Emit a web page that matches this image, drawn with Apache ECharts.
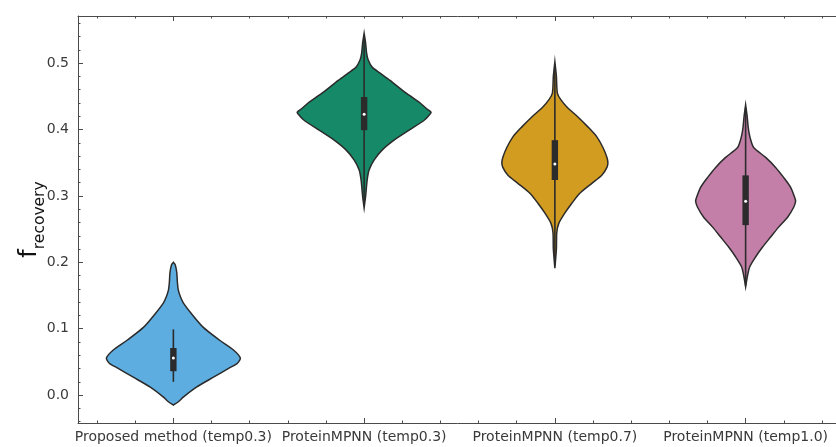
<!DOCTYPE html>
<html>
<head>
<meta charset="utf-8">
<script src="https://cdn.jsdelivr.net/npm/echarts@6/dist/echarts.min.js"></script>
<style>
  html, body { margin: 0; padding: 0; background: #ffffff; }
  #chart { width: 836px; height: 447px; }
</style>
</head>
<body>
<div id="chart"></div>
<script>
// Methods compared
const categories = [
  'Proposed method (temp0.3)',
  'ProteinMPNN (temp0.3)',
  'ProteinMPNN (temp0.7)',
  'ProteinMPNN (temp1.0)'
];

// Violin outlines: recovery values (top to bottom) and kernel density half-widths
// (as a fraction of one category band)
const proposedY = [0.200, 0.196, 0.184, 0.170, 0.158, 0.148, 0.139, 0.123, 0.102, 0.083, 0.068, 0.056, 0.048, 0.041, 0.027, 0.012, -0.003, -0.010, -0.015];
const proposedW = [0.000, 0.010, 0.018, 0.021, 0.026, 0.037, 0.052, 0.094, 0.157, 0.241, 0.315, 0.351, 0.336, 0.294, 0.210, 0.121, 0.052, 0.026, 0.000];

const mpnn03Y = [0.545, 0.530, 0.515, 0.505, 0.494, 0.485, 0.474, 0.456, 0.440, 0.432, 0.426, 0.420, 0.414, 0.399, 0.384, 0.369, 0.354, 0.339, 0.324, 0.300, 0.282];
const mpnn03W = [0.000, 0.008, 0.013, 0.021, 0.042, 0.084, 0.136, 0.215, 0.294, 0.325, 0.351, 0.336, 0.315, 0.236, 0.157, 0.094, 0.052, 0.026, 0.016, 0.008, 0.000];

const mpnn07Y = [0.502, 0.480, 0.455, 0.445, 0.434, 0.419, 0.404, 0.389, 0.373, 0.358, 0.350, 0.343, 0.331, 0.319, 0.304, 0.289, 0.274, 0.259, 0.245, 0.220, 0.191];
const mpnn07W = [0.000, 0.008, 0.013, 0.031, 0.063, 0.121, 0.173, 0.220, 0.252, 0.273, 0.278, 0.273, 0.246, 0.194, 0.131, 0.089, 0.052, 0.021, 0.010, 0.008, 0.000];

const mpnn10Y = [0.437, 0.420, 0.405, 0.395, 0.385, 0.373, 0.358, 0.343, 0.328, 0.313, 0.298, 0.292, 0.283, 0.268, 0.253, 0.238, 0.223, 0.208, 0.193, 0.180, 0.163];
const mpnn10W = [0.000, 0.008, 0.013, 0.018, 0.026, 0.042, 0.105, 0.157, 0.199, 0.236, 0.257, 0.262, 0.252, 0.220, 0.173, 0.131, 0.089, 0.052, 0.021, 0.010, 0.000];

// Inner box statistics
const whiskerLow  = [0.020, 0.285, 0.195, 0.165];
const quartile1   = [0.036, 0.399, 0.324, 0.256];
const medians     = [0.056, 0.423, 0.348, 0.292];
const quartile3   = [0.071, 0.449, 0.384, 0.331];
const whiskerHigh = [0.099, 0.540, 0.498, 0.433];

// Y axis range and tick labels
const yMin = -0.042;
const yMax = 0.571;
const yTickLabels = ['0.0', '0.1', '0.2', '0.3', '0.4', '0.5'];

const palette = ['#5dade0', '#168a68', '#d29c20', '#c47fa8'];
const violinY = [proposedY, mpnn03Y, mpnn07Y, mpnn10Y];
const violinW = [proposedW, mpnn03W, mpnn07W, mpnn10W];

const FONT = 'DejaVu Sans';
const AXIS_COLOR = '#4a4a4a';
const LABEL_COLOR = '#3a3a3a';

// 20 sub-slots for the minor ticks along x (5 per category band)
const minorSlots = [];
for (let i = 0; i < categories.length * 5; i++) minorSlots.push('m' + i);

const chart = echarts.init(document.getElementById('chart'), null, { renderer: 'canvas' });

function renderViolin(params, api) {
  const i = api.value(0);
  const ys = violinY[i];
  const ws = violinW[i];
  const cx = api.coord([i, 0])[0];
  const band = api.size([1, 0])[0];
  const right = [];
  const left = [];
  for (let k = 0; k < ys.length; k++) {
    const py = api.coord([i, ys[k]])[1];
    right.push([cx + ws[k] * band, py]);
    left.unshift([cx - ws[k] * band, py]);
  }
  const yWl = api.coord([i, whiskerLow[i]])[1];
  const yWh = api.coord([i, whiskerHigh[i]])[1];
  const yQ1 = api.coord([i, quartile1[i]])[1];
  const yQ3 = api.coord([i, quartile3[i]])[1];
  const yMed = api.coord([i, medians[i]])[1];
  return {
    type: 'group',
    children: [
      {
        type: 'polygon',
        shape: { points: right.concat(left), smooth: 0.25 },
        style: { fill: palette[i], stroke: '#2b2b2b', lineWidth: 1.5 }
      },
      {
        type: 'line',
        shape: { x1: cx, y1: yWh, x2: cx, y2: yWl },
        style: { stroke: '#2b2b2b', lineWidth: 1.6 }
      },
      {
        type: 'rect',
        shape: { x: cx - 3.2, y: yQ3, width: 6.4, height: yQ1 - yQ3 },
        style: { fill: '#2b2b2b' }
      },
      {
        type: 'circle',
        shape: { cx: cx, cy: yMed, r: 1.5 },
        style: { fill: '#ffffff' }
      }
    ]
  };
}

function frameAxis(data, position, tickLength, showLine, showLabel) {
  return {
    type: 'category',
    data: data,
    position: position,
    boundaryGap: true,
    axisLine: { show: showLine, onZero: false, lineStyle: { color: AXIS_COLOR, width: 1 } },
    axisTick: { show: true, inside: true, alignWithLabel: true, length: tickLength, lineStyle: { color: AXIS_COLOR } },
    axisLabel: showLabel
      ? { color: LABEL_COLOR, fontFamily: FONT, fontSize: 14, margin: 7, interval: 0 }
      : { show: false },
    splitLine: { show: false }
  };
}

const option = {
  backgroundColor: '#ffffff',
  animation: false,
  grid: { left: 78, right: -5, top: 16, bottom: 24, containLabel: false, outerBoundsMode: 'none' },
  xAxis: [
    frameAxis(categories, 'bottom', 5, true, true),
    frameAxis(categories, 'top', 5, true, false),
    frameAxis(minorSlots, 'bottom', 2.5, false, false),
    frameAxis(minorSlots, 'top', 2.5, false, false)
  ],
  yAxis: [
    {
      type: 'value',
      min: yMin,
      max: yMax,
      position: 'left',
      name: '{f|f}{s|recovery}',
      nameLocation: 'middle',
      nameRotate: 90,
      nameGap: 36,
      nameMoveOverlap: false,
      nameTextStyle: {
        rich: {
          f: { fontFamily: FONT, fontSize: 24, color: '#111111', verticalAlign: 'bottom', lineHeight: 27 },
          s: { fontFamily: FONT, fontSize: 15.5, color: '#111111', verticalAlign: 'bottom', lineHeight: 15, padding: [0, 0, -6, 0] }
        }
      },
      axisLine: { show: true, onZero: false, lineStyle: { color: AXIS_COLOR, width: 1 } },
      axisTick: { show: true, inside: true, length: 5, lineStyle: { color: AXIS_COLOR } },
      axisLabel: {
        color: LABEL_COLOR,
        fontFamily: FONT,
        fontSize: 14,
        margin: 9,
        showMinLabel: false,
        showMaxLabel: false,
        formatter: function (v) {
          const t = v.toFixed(1);
          return yTickLabels.indexOf(t) >= 0 && Math.abs(v - Number(t)) < 1e-9 ? t : '';
        }
      },
      splitLine: { show: false }
    },
    {
      type: 'value',
      min: yMin,
      max: yMax,
      splitNumber: 30,
      position: 'left',
      axisLine: { show: false, onZero: false },
      axisTick: { show: true, inside: true, length: 2.5, lineStyle: { color: AXIS_COLOR } },
      axisLabel: { show: false },
      splitLine: { show: false }
    }
  ],
  series: [
    {
      type: 'custom',
      name: 'recovery',
      xAxisIndex: 0,
      yAxisIndex: 0,
      renderItem: renderViolin,
      data: categories.map(function (c, i) { return [i]; }),
      clip: false,
      z: 2
    }
  ]
};

chart.setOption(option);
</script>
</body>
</html>
